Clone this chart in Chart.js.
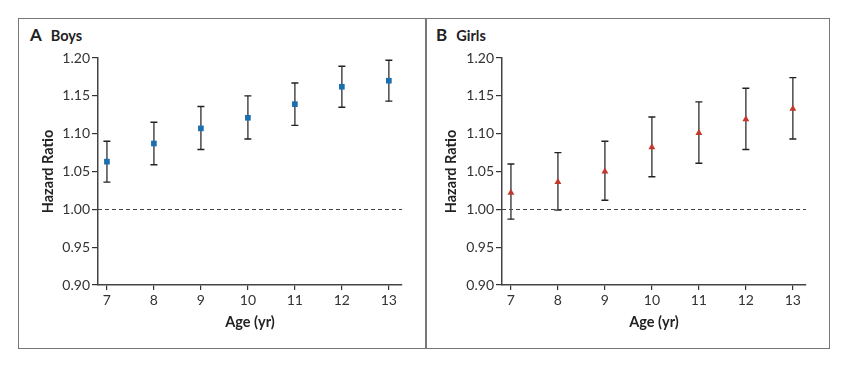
<!DOCTYPE html>
<html>
<head>
<meta charset="utf-8">
<script src="https://cdn.jsdelivr.net/npm/chart.js@4.4.1/dist/chart.umd.min.js"></script>
<style>
  body { margin: 0; background: #fff; width: 847px; height: 368px; position: relative; font-family: Lato, "Noto Sans", sans-serif; }
  #frame { position: absolute; left: 18px; top: 18px; width: 810px; height: 329px; border: 1.5px solid #777; }
  #divider { position: absolute; left: 425px; top: 18px; width: 1.5px; height: 331px; background: #777; }
  .panel { position: absolute; top: 20px; height: 328px; }
  .label { position: absolute; top: 24px; color: #222; font-weight: bold; white-space: nowrap; }
  .label .big { font-size: 17px; margin-right: 9px; }
  .label .small { font-size: 14.5px; }
</style>
</head>
<body>
<div id="frame"></div>
<div id="divider"></div>
<div class="label" style="left:30px"><span class="big">A</span><span class="small">Boys</span></div>
<div class="label" style="left:436px"><span class="big">B</span><span class="small">Girls</span></div>
<div class="panel" style="left:20px;width:405px"><canvas id="boys-graph"></canvas></div>
<div class="panel" style="left:427px;width:401px"><canvas id="girls-graph"></canvas></div>
<script>
var ages = [7, 8, 9, 10, 11, 12, 13]
var yTicks = [0.90, 0.95, 1.00, 1.05, 1.10, 1.15, 1.20]
var refLine = 1.00

var boys_hr = [1.063, 1.087, 1.107, 1.121, 1.139, 1.162, 1.170]
var boys_low = [1.036, 1.059, 1.079, 1.093, 1.111, 1.135, 1.143]
var boys_high = [1.090, 1.115, 1.136, 1.150, 1.167, 1.189, 1.197]

var girls_hr = [1.022, 1.036, 1.050, 1.082, 1.101, 1.119, 1.133]
var girls_low = [0.987, 0.999, 1.012, 1.043, 1.061, 1.079, 1.093]
var girls_high = [1.060, 1.075, 1.090, 1.122, 1.142, 1.160, 1.174]

var fontFamily = "Lato, 'Noto Sans', sans-serif"

// error bars + dashed reference line, drawn under the markers
var errorBars = {
    id: 'errorBars',
    beforeDatasetsDraw(chart, args, opts) {
        var ctx = chart.ctx
        var x = chart.scales.x
        var y = chart.scales.y
        var area = chart.chartArea
        ctx.save()
        // reference line
        ctx.strokeStyle = '#444'
        ctx.lineWidth = 1
        ctx.setLineDash([4, 3])
        ctx.beginPath()
        var ry = Math.round(y.getPixelForValue(refLine)) + 0.5
        ctx.moveTo(area.left, ry)
        ctx.lineTo(area.right, ry)
        ctx.stroke()
        ctx.setLineDash([])
        for (var i = 0; i < ages.length; i++) {
            var px = x.getPixelForValue(ages[i])
            var top = y.getPixelForValue(opts.high[i])
            var bot = y.getPixelForValue(opts.low[i])
            ctx.strokeStyle = '#555'
            ctx.lineWidth = 1.6
            ctx.beginPath()
            ctx.moveTo(px, top)
            ctx.lineTo(px, bot)
            ctx.stroke()
            ctx.strokeStyle = '#222'
            ctx.lineWidth = 1.4
            ctx.beginPath()
            ctx.moveTo(px - 3.5, top)
            ctx.lineTo(px + 3.5, top)
            ctx.moveTo(px - 3.5, bot)
            ctx.lineTo(px + 3.5, bot)
            ctx.stroke()
        }
        ctx.restore()
    }
}

function createGraph(id, values, low, high, color, style, radius, padRight, yWidth, yTitlePad) {
    var points = ages.map(function (a, i) { return { x: a, y: values[i] } })
    return new Chart(document.getElementById(id), {
        type: 'scatter',
        data: {
            datasets: [{
                data: points,
                pointStyle: style,
                pointRadius: radius,
                pointHoverRadius: radius,
                backgroundColor: color,
                borderColor: color,
                borderWidth: 0
            }]
        },
        options: {
            responsive: true,
            maintainAspectRatio: false,
            animation: false,
            layout: { padding: { top: 38, right: padRight, left: 0, bottom: 0 } },
            plugins: {
                legend: { display: false },
                tooltip: { enabled: false },
                errorBars: { low: low, high: high }
            },
            scales: {
                x: {
                    type: 'linear',
                    min: 6.81,
                    max: 13.28,
                    afterBuildTicks(s) { s.ticks = ages.map(function (v) { return { value: v } }) },
                    afterFit(s) { s.height = 63 },
                    grid: { drawOnChartArea: false, drawTicks: true, tickLength: 5, color: '#333', lineWidth: 1.2 },
                    border: { display: true, color: '#444', width: 1.5 },
                    ticks: { color: '#333', padding: 2, font: { family: fontFamily, size: 14 } },
                    title: { display: true, text: 'Age (yr)', color: '#222', padding: { top: 0, bottom: 17 }, font: { family: fontFamily, size: 14.5, weight: 'bold' } }
                },
                y: {
                    min: 0.9,
                    max: 1.2,
                    afterBuildTicks(s) { s.ticks = yTicks.map(function (v) { return { value: v } }) },
                    afterFit(s) { s.width = yWidth },
                    grid: { drawOnChartArea: false, drawTicks: true, tickLength: 6, color: '#333', lineWidth: 1.2 },
                    border: { display: true, color: '#444', width: 1.5 },
                    ticks: { color: '#333', padding: 2, font: { family: fontFamily, size: 14 }, callback: function (v) { return v.toFixed(2) } },
                    title: { display: true, text: 'Hazard Ratio', color: '#222', padding: { top: yTitlePad, bottom: 0 }, font: { family: fontFamily, size: 14.5, weight: 'bold' } }
                }
            }
        },
        plugins: [errorBars]
    })
}

createGraph('boys-graph', boys_hr, boys_low, boys_high, '#1a6fb0', 'rect', 4, 23, 78, 20)
createGraph('girls-graph', girls_hr, girls_low, girls_high, '#c4372b', 'triangle', 4, 22, 75, 16)
</script>
</body>
</html>
